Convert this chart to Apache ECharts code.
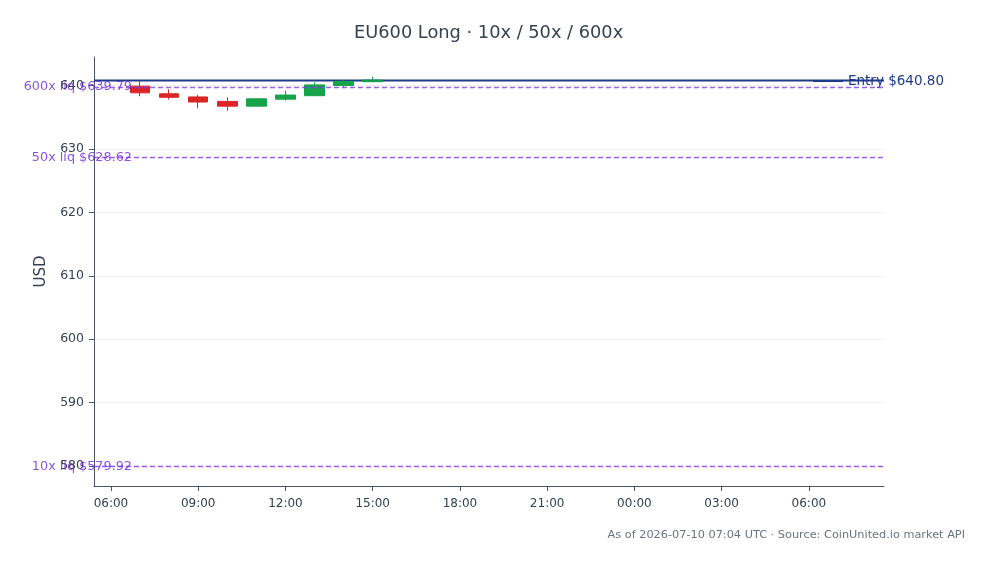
<!DOCTYPE html>
<html lang="en">
<head>
    <meta charset="UTF-8">
    <title>EU600 Long</title>
    <script src="https://cdn.jsdelivr.net/npm/echarts@6/dist/echarts.min.js"></script>
    <style>
        html, body { margin: 0; padding: 0; background: #fff; }
    </style>
</head>
<body>
<div id="myChart" style="width: 989px;height: 564px;"></div>

<script>
    // hours since 2026-07-09 00:00 UTC
    var hours = [7, 8, 9, 10, 11, 12, 13, 14, 15];
    var openP  = [639.90, 638.70, 638.20, 637.50, 636.75, 637.85, 638.40, 640.00, 640.60];
    var closeP = [638.85, 638.15, 637.40, 636.75, 637.90, 638.50, 640.10, 640.65, 640.85];
    var lowP   = [638.30, 637.80, 636.40, 636.00, 636.70, 637.60, 638.40, 639.70, 640.60];
    var highP  = [640.70, 639.40, 638.50, 638.15, 637.95, 639.20, 640.50, 640.80, 641.40];

    var entryPrice = 640.80;
    var liqNames = ['600x liq', '50x liq', '10x liq'];
    var liqPrices = [639.79, 628.62, 579.92];

    var xMin = 5.417, xMax = 32.583;
    var xTicks = [6, 9, 12, 15, 18, 21, 24, 27, 30];
    var yTicks = [580, 590, 600, 610, 620, 630, 640];

    var candles = [];
    for (var i = 0; i < hours.length; i++) {
        candles.push([hours[i], openP[i], closeP[i], lowP[i], highP[i]]);
    }

    var liqLines = [];
    for (var j = 0; j < liqPrices.length; j++) {
        liqLines.push({
            yAxis: liqPrices[j],
            label: {formatter: liqNames[j] + ' $' + liqPrices[j].toFixed(2)}
        });
    }

    function hh(v) {
        var h = Math.round(v) % 24;
        return (h < 10 ? '0' : '') + h + ':00';
    }

    var myChart = echarts.init(document.getElementById('myChart'));

    var option = {
        animation: false,
        textStyle: {fontFamily: 'DejaVu Sans'},
        title: [{
            text: 'EU600 Long · 10x / 50x / 600x',
            left: 349,
            top: 19,
            textStyle: {fontSize: 17.8, fontWeight: 'normal', color: '#374151', fontFamily: 'DejaVu Sans'}
        }, {
            text: 'As of 2026-07-10 07:04 UTC · Source: CoinUnited.io market API',
            right: 19,
            top: 525,
            textStyle: {fontSize: 11.3, fontWeight: 'normal', color: '#6b7280', fontFamily: 'DejaVu Sans'}
        }],
        legend: {
            right: 40,
            top: 69,
            itemWidth: 30,
            itemHeight: 10,
            itemGap: 4,
            data: [{name: 'Entry $640.80', icon: 'path://M0,4L30,4L30,6L0,6Z'}],
            textStyle: {fontSize: 13.5, color: '#1e3a8a', fontFamily: 'DejaVu Sans'}
        },
        grid: {left: 94, right: 105, top: 57, bottom: 78},
        xAxis: {
            type: 'value',
            min: xMin,
            max: xMax,
            axisLine: {lineStyle: {color: '#475569'}},
            axisTick: {show: true, length: 5, customValues: xTicks, lineStyle: {color: '#475569'}},
            axisLabel: {customValues: xTicks, formatter: hh, color: '#374151', fontSize: 12, margin: 12},
            splitLine: {show: false}
        },
        yAxis: {
            type: 'value',
            min: 576.85,
            max: 644.5,
            name: 'USD',
            nameLocation: 'middle',
            nameGap: 45,
            nameTextStyle: {fontSize: 15, color: '#374151'},
            axisLine: {show: true, lineStyle: {color: '#475569'}},
            axisTick: {show: true, length: 5, customValues: yTicks, lineStyle: {color: '#475569'}},
            axisLabel: {customValues: yTicks, color: '#374151', fontSize: 12.5, margin: 10},
            splitLine: {show: true, lineStyle: {color: '#eef0f3'}}
        },
        series: [{
            type: 'candlestick',
            name: 'EU600',
            data: candles,
            encode: {x: 0, y: [1, 2, 3, 4]},
            barWidth: 20,
            itemStyle: {
                color: '#16a34a',
                color0: '#dc2626',
                borderColor: '#16a34a',
                borderColor0: '#dc2626',
                borderWidth: 1
            },
            markLine: {
                symbol: 'none',
                silent: true,
                lineStyle: {type: [5, 3], color: '#7c3aed', width: 1.3, opacity: 0.8},
                label: {position: 'start', distance: -38, color: '#6d28d9', fontSize: 12.8},
                data: liqLines
            }
        }, {
            type: 'line',
            name: 'Entry $640.80',
            data: [[xMin, entryPrice], [xMax, entryPrice]],
            symbol: 'none',
            lineStyle: {color: '#1e3a8a', width: 2},
            itemStyle: {color: '#1e3a8a'},
            z: 1
        }]
    };

    myChart.setOption(option);
</script>
</body>
</html>
